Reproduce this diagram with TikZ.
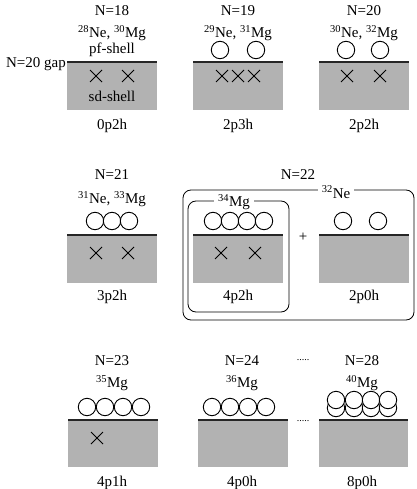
\documentclass[tikz,border=0pt]{standalone}
\usepackage{fontspec}
\setmainfont{Liberation Serif}
\begin{document}
\begin{tikzpicture}[x=1pt,y=-1pt,
  lbl/.style={font=\fontsize{15}{17}\selectfont, inner sep=0pt},
  shellfill/.style={fill=black!30, draw=none},
  fermi/.style={line width=1.6pt, draw=black!85},
  part/.style={draw=black, line width=0.9pt, fill=white},
  hole/.style={line width=0.9pt},
  frame/.style={draw=black, line width=0.8pt, rounded corners=8pt}]
\useasboundingbox (0,0) rectangle (416,489);
% helper macros
\newcommand{\shellbox}[4]{% xl, xr, yline, ybot
  \fill[shellfill] (#1,#3) rectangle (#2,#4);
  \draw[fermi] (#1,#3) -- (#2,#3);}
\newcommand{\xmark}[2]{\draw[hole] (#1-6,#2-6) -- (#1+6,#2+6) (#1-6,#2+6) -- (#1+6,#2-6);}
\newcommand{\pcirc}[2]{\draw[part] (#1,#2) circle (8.7);}
% ---------- Row 1 ----------
\shellbox{67}{157}{62}{110}
\shellbox{193}{283}{62}{110}
\shellbox{319}{409}{62}{110}
\node[lbl, anchor=east] (gap) at (66,64) {N=20 gap};
\node[lbl] (n18) at (112,11) {N=18};
\node[lbl] (i18) at (112,33) {\textsuperscript{28}Ne, \textsuperscript{30}Mg};
\node[lbl] (pf) at (112,50) {pf-shell};
\node[lbl] (sd) at (112,96) {sd-shell};
\xmark{96}{76}\xmark{128}{76}
\node[lbl] (c1) at (112,126) {0p2h};
\node[lbl] (n19) at (238,11) {N=19};
\node[lbl] (i19) at (238,33) {\textsuperscript{29}Ne, \textsuperscript{31}Mg};
\pcirc{220}{50}\pcirc{256}{50}
\xmark{222}{76}\xmark{238}{76}\xmark{254}{76}
\node[lbl] (c2) at (238,126) {2p3h};
\node[lbl] (n20) at (364,11) {N=20};
\node[lbl] (i20) at (364,33) {\textsuperscript{30}Ne, \textsuperscript{32}Mg};
\pcirc{346}{50}\pcirc{380}{50}
\xmark{347}{76}\xmark{380}{76}
\node[lbl] (c3) at (364,126) {2p2h};
% ---------- Row 2 ----------
\shellbox{67}{157}{235}{283}
\node[lbl] (n21) at (112,175) {N=21};
\node[lbl] (i21) at (112,199) {\textsuperscript{31}Ne, \textsuperscript{33}Mg};
\pcirc{95}{221}\pcirc{112}{221}\pcirc{129}{221}
\xmark{96}{253}\xmark{128}{253}
\node[lbl] (c4) at (112,297) {3p2h};
\draw[frame] (183,190) rectangle (414,320);
\draw[frame] (188,201) rectangle (289,312);
\node[lbl] (n22) at (298,175) {N=22};
\node[lbl, fill=white, inner xsep=4pt] (ne32) at (336,192) {\textsuperscript{32}Ne};
\node[lbl, fill=white, inner xsep=4pt] (mg34) at (234,202) {\textsuperscript{34}Mg};
\shellbox{193}{283}{235}{283}
\pcirc{213}{221}\pcirc{230}{221}\pcirc{247}{221}\pcirc{264}{221}
\xmark{221}{253}\xmark{255}{253}
\node[lbl] (c5) at (238,297) {4p2h};
\node[lbl] (plus) at (303,237) {+};
\shellbox{319}{409}{235}{283}
\pcirc{343}{221}\pcirc{378}{221}
\node[lbl] (c6) at (364,297) {2p0h};
% ---------- Row 3 ----------
\shellbox{68}{158}{420}{467}
\node[lbl] (n23) at (112,361) {N=23};
\node[lbl] (i23) at (112,383) {\textsuperscript{35}Mg};
\pcirc{87}{407}\pcirc{105}{407}\pcirc{123}{407}\pcirc{141}{407}
\xmark{97}{438}
\node[lbl] (c7) at (112,483) {4p1h};
\shellbox{198}{288}{420}{467}
\node[lbl] (n24) at (242,361) {N=24};
\node[lbl] (i24) at (242,383) {\textsuperscript{36}Mg};
\pcirc{212}{407}\pcirc{230}{407}\pcirc{248}{407}\pcirc{266}{407}
\node[lbl] (c8) at (242,483) {4p0h};
\shellbox{319}{408}{420}{467}
\node[lbl] (n28) at (362,361) {N=28};
\node[lbl] (i28) at (362,383) {\textsuperscript{40}Mg};
\pcirc{336}{408}\pcirc{354}{408}\pcirc{371}{408}\pcirc{388}{408}
\pcirc{336}{400}\pcirc{354}{400}\pcirc{371}{400}\pcirc{388}{400}
\node[lbl] (c9) at (362,483) {8p0h};
\node[lbl, anchor=base, font=\fontsize{10}{11}\selectfont] (dots1) at (303,360) {.....};
\node[lbl, anchor=base, font=\fontsize{10}{11}\selectfont] (dots2) at (303,421) {.....};
\end{tikzpicture}
\end{document}
